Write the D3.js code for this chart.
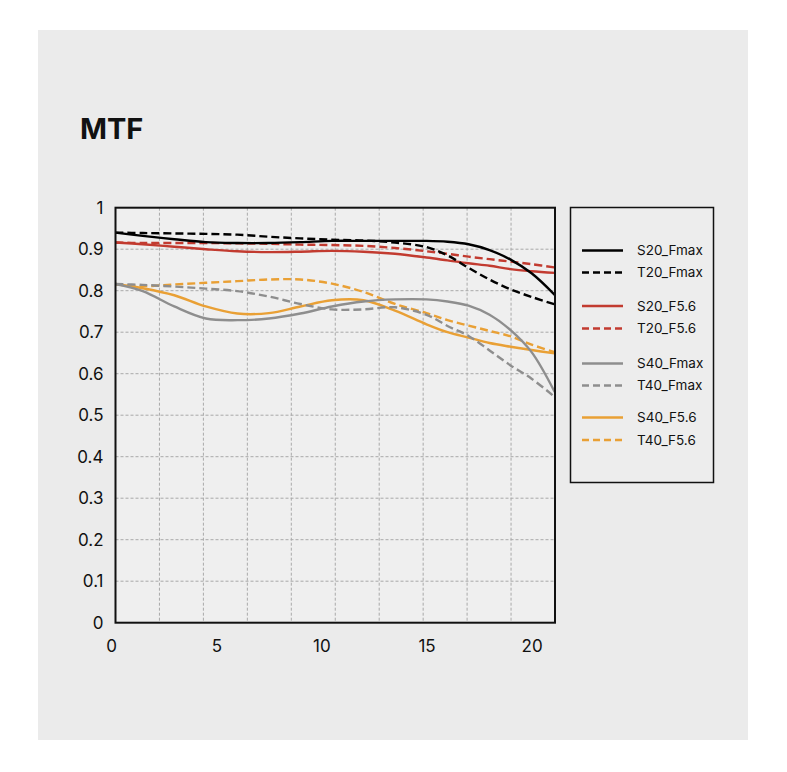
<!DOCTYPE html>
<html><head><meta charset="utf-8">
<script src="https://cdn.jsdelivr.net/npm/d3@7/dist/d3.min.js"></script>
<style>
html,body{margin:0;padding:0;background:#fff;}
svg{display:block;font-family:Inter,"Noto Sans",sans-serif;}
</style></head>
<body>
<svg id="chart" width="787" height="772"></svg>
<script>
// ---- data ----
const title = "MTF";
const xs = [0.2, 1.5, 3, 4.5, 6, 7.5, 9, 10.5, 12, 13.5, 15, 16, 17, 18, 19, 20, 21.1];
const S20_Fmax = [0.940,0.932,0.924,0.917,0.915,0.915,0.917,0.920,0.920,0.920,0.920,0.918,0.912,0.898,0.875,0.842,0.790];
const T20_Fmax = [0.940,0.939,0.938,0.937,0.935,0.930,0.926,0.923,0.921,0.916,0.905,0.885,0.855,0.827,0.803,0.785,0.767];
const S20_F56  = [0.916,0.912,0.906,0.900,0.895,0.893,0.894,0.896,0.894,0.889,0.880,0.873,0.866,0.860,0.852,0.847,0.843];
const T20_F56  = [0.916,0.915,0.915,0.915,0.914,0.913,0.911,0.910,0.908,0.903,0.895,0.889,0.882,0.876,0.870,0.864,0.856];
const S40_Fmax = [0.816,0.799,0.762,0.733,0.729,0.733,0.745,0.762,0.774,0.779,0.779,0.774,0.764,0.742,0.705,0.652,0.556];
const T40_Fmax = [0.816,0.814,0.810,0.805,0.799,0.786,0.768,0.755,0.755,0.760,0.742,0.715,0.691,0.656,0.620,0.588,0.544];
const S40_F56  = [0.816,0.806,0.789,0.762,0.745,0.746,0.762,0.777,0.777,0.752,0.719,0.700,0.687,0.674,0.665,0.657,0.649];
const T40_F56  = [0.816,0.811,0.815,0.819,0.823,0.827,0.827,0.817,0.797,0.768,0.746,0.729,0.716,0.703,0.690,0.670,0.652];
const seriesNames = ["S20_Fmax","T20_Fmax","S20_F5.6","T20_F5.6","S40_Fmax","T40_Fmax","S40_F5.6","T40_F5.6"];
const seriesValues = [S20_Fmax,T20_Fmax,S20_F56,T20_F56,S40_Fmax,T40_Fmax,S40_F56,T40_F56];
const seriesColors = ["#000000","#000000","#c23b30","#c23b30","#8e8e8e","#8e8e8e","#e9a035","#e9a035"];
const seriesDashed = [false,true,false,true,false,true,false,true];
const xTicks = [0,5,10,15,20];
const yTicks = [0,0.1,0.2,0.3,0.4,0.5,0.6,0.7,0.8,0.9,1];
const xGridCount = 10;

// ---- layout ----
const svg = d3.select("#chart");
svg.append("rect").attr("x",38).attr("y",30).attr("width",710).attr("height",710).attr("fill","#ebebeb");
svg.append("text").attr("x",80).attr("y",139).attr("font-size",29).attr("font-weight",700).attr("fill","#111").text(title);

const plot = {left:115.5, right:555, top:207.7, bottom:622.7};
const xDom = [0.2, 21.1];
const x = d3.scaleLinear().domain([(plot.left-111.2)/21.02, (plot.right-111.2)/21.02]).range([plot.left, plot.right]);
const y = d3.scaleLinear().domain([0,1]).range([plot.bottom, plot.top]);

svg.append("rect").attr("x",plot.left).attr("y",plot.top).attr("width",plot.right-plot.left).attr("height",plot.bottom-plot.top).attr("fill","#efefef");

// grid
const gx = d3.range(1,xGridCount).map(i => x.domain()[0] + (x.domain()[1]-x.domain()[0])*i/xGridCount);
const grid = svg.append("g").attr("stroke","#a9a9a9").attr("stroke-width",1).attr("stroke-dasharray","3,2");
grid.selectAll("line.v").data(gx).join("line").attr("class","v")
  .attr("x1",d=>x(d)).attr("x2",d=>x(d)).attr("y1",plot.top).attr("y2",plot.bottom);
grid.selectAll("line.h").data(yTicks.filter(t=>t>0&&t<1)).join("line").attr("class","h")
  .attr("x1",plot.left).attr("x2",plot.right).attr("y1",d=>y(d)).attr("y2",d=>y(d));

// lines
svg.append("clipPath").attr("id","clip").append("rect")
  .attr("x",plot.left).attr("y",plot.top).attr("width",plot.right-plot.left).attr("height",plot.bottom-plot.top);
const line = d3.line().x(d=>x(d[0])).y(d=>y(d[1])).curve(d3.curveCatmullRom.alpha(0.5));
const lg = svg.append("g").attr("clip-path","url(#clip)");
// draw in order: gray/orange first, then red, then black on top
const order = [6,7,4,5,2,3,0,1];
order.forEach(i=>{
  lg.append("path").datum(xs.map((xv,j)=>[xv, seriesValues[i][j]]))
    .attr("d",line).attr("fill","none").attr("stroke",seriesColors[i])
    .attr("stroke-width",2.4).attr("stroke-dasharray",seriesDashed[i]?"8,4":null);
});

// frame
svg.append("rect").attr("x",plot.left).attr("y",plot.top).attr("width",plot.right-plot.left).attr("height",plot.bottom-plot.top)
  .attr("fill","none").attr("stroke","#111").attr("stroke-width",2);

// axes
const yAxis = d3.axisLeft(y).tickValues(yTicks).tickSize(0).tickPadding(12).tickFormat(d=>d3.format("~g")(d));
const ya = svg.append("g").attr("transform",`translate(${plot.left},0)`).call(yAxis);
ya.select(".domain").remove();
ya.selectAll("text").attr("font-size",17).attr("fill","#111").attr("font-family","Inter,'Noto Sans',sans-serif");

const xAxis = d3.axisBottom(x).tickValues(xTicks).tickSize(0).tickPadding(17);
const xa = svg.append("g").attr("transform",`translate(0,${plot.bottom})`).call(xAxis);
xa.select(".domain").remove();
xa.selectAll("text").attr("font-size",17).attr("fill","#111").attr("font-family","Inter,'Noto Sans',sans-serif");

// legend
const leg = svg.append("g");
leg.append("rect").attr("x",570.5).attr("y",207.5).attr("width",143).attr("height",275)
  .attr("fill","#ededed").attr("stroke","#111").attr("stroke-width",1.5);
const legY = [250.5,272.5,306,328.5,363.5,385.5,417.5,440];
seriesNames.forEach((n,i)=>{
  leg.append("line").attr("x1",582).attr("x2",623).attr("y1",legY[i]).attr("y2",legY[i])
    .attr("stroke",seriesColors[i]).attr("stroke-width",2.4).attr("stroke-dasharray",seriesDashed[i]?"7,4":null);
  leg.append("text").attr("x",637).attr("y",legY[i]).attr("dy","0.35em").attr("font-size",13.5).attr("fill","#111").text(n);
});
</script>
</body></html>
